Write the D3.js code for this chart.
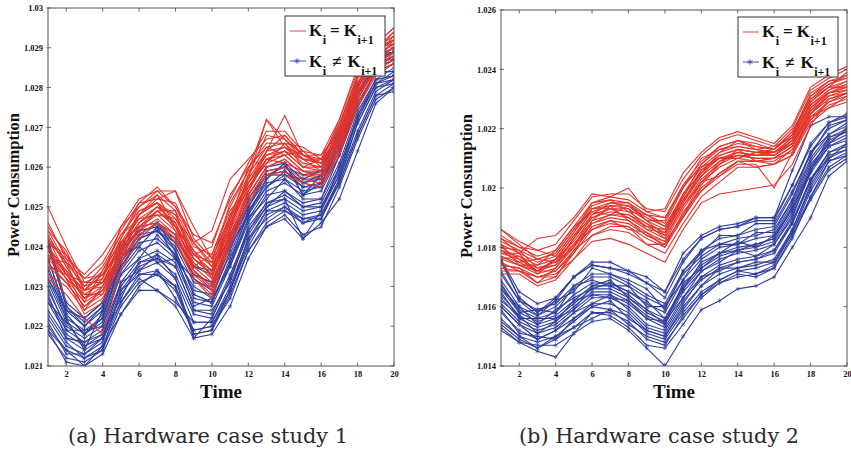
<!DOCTYPE html>
<html>
<head>
<meta charset="utf-8">
<script src="https://cdn.jsdelivr.net/npm/d3@7/dist/d3.min.js"></script>
<style>
  html, body { margin: 0; padding: 0; background: #fff; }
  svg { display: block; }
</style>
</head>
<body>
<svg id="chart" width="851" height="452"></svg>
<script>
// ---------- DATA ----------
const times = [1,2,3,4,5,6,7,8,9,10,11,12,13,14,15,16,17,18,19,20];

const xTicks = [2,4,6,8,10,12,14,16,18,20];
const yTicksA = [1.021,1.022,1.023,1.024,1.025,1.026,1.027,1.028,1.029,1.03];
const yTicksB = [1.014,1.016,1.018,1.02,1.022,1.024,1.026];

const captions = ["(a) Hardware case study 1", "(b) Hardware case study 2"];

// Case study 1, K_i = K_i+1 (red)
const caseA_equal = [
  [1.0245,1.0238,1.0232,1.0236,1.0244,1.0251,1.0255,1.0250,1.0243,1.0241,1.0252,1.0261,1.0269,1.0269,1.0264,1.0263,1.0272,1.0284,1.0291,1.0295],
  [1.0250,1.0240,1.0231,1.0233,1.0242,1.0250,1.0253,1.0249,1.0240,1.0238,1.0250,1.0259,1.0272,1.0265,1.0262,1.0262,1.0270,1.0283,1.0290,1.0293],
  [1.0237,1.0232,1.0226,1.0229,1.0238,1.0245,1.0249,1.0245,1.0235,1.0231,1.0244,1.0254,1.0262,1.0263,1.0259,1.0258,1.0266,1.0279,1.0286,1.0289],
  [1.0233,1.0230,1.0224,1.0227,1.0236,1.0244,1.0247,1.0243,1.0233,1.0229,1.0242,1.0252,1.0259,1.0260,1.0257,1.0256,1.0264,1.0276,1.0284,1.0287],
  [1.0242,1.0236,1.0230,1.0232,1.0241,1.0248,1.0252,1.0254,1.0245,1.0237,1.0247,1.0257,1.0264,1.0273,1.0263,1.0261,1.0269,1.0281,1.0288,1.0291],
  [1.0239,1.0233,1.0227,1.0230,1.0239,1.0246,1.0250,1.0246,1.0237,1.0233,1.0245,1.0255,1.0262,1.0264,1.0260,1.0259,1.0267,1.0280,1.0287,1.0290],
  [1.0244,1.0239,1.0229,1.0234,1.0243,1.0249,1.0251,1.0248,1.0239,1.0235,1.0248,1.0258,1.0265,1.0266,1.0262,1.0261,1.0269,1.0281,1.0289,1.0292],
  [1.0236,1.0231,1.0225,1.0228,1.0237,1.0245,1.0248,1.0244,1.0234,1.0230,1.0243,1.0253,1.0260,1.0262,1.0258,1.0257,1.0265,1.0278,1.0285,1.0288],
  [1.0241,1.0237,1.0233,1.0238,1.0245,1.0252,1.0254,1.0250,1.0241,1.0244,1.0257,1.0262,1.0267,1.0268,1.0263,1.0262,1.0271,1.0283,1.0290,1.0294],
  [1.0238,1.0232,1.0223,1.0226,1.0236,1.0243,1.0246,1.0242,1.0232,1.0228,1.0240,1.0251,1.0258,1.0259,1.0256,1.0255,1.0263,1.0275,1.0283,1.0286],
  [1.0243,1.0235,1.0228,1.0231,1.0240,1.0248,1.0251,1.0247,1.0238,1.0236,1.0246,1.0256,1.0264,1.0265,1.0261,1.0260,1.0268,1.0280,1.0288,1.0291],
  [1.0235,1.0233,1.0227,1.0229,1.0239,1.0246,1.0249,1.0245,1.0236,1.0232,1.0245,1.0255,1.0261,1.0263,1.0259,1.0259,1.0266,1.0279,1.0286,1.0289],
  [1.0240,1.0234,1.0229,1.0231,1.0240,1.0247,1.0250,1.0246,1.0237,1.0234,1.0246,1.0256,1.0263,1.0264,1.0260,1.0260,1.0268,1.0280,1.0287,1.0290],
  [1.0232,1.0228,1.0222,1.0218,1.0234,1.0242,1.0246,1.0241,1.0232,1.0227,1.0241,1.0251,1.0258,1.0258,1.0256,1.0255,1.0264,1.0276,1.0284,1.0286],
  [1.0242,1.0233,1.0231,1.0231,1.0238,1.0248,1.0253,1.0245,1.0239,1.0232,1.0247,1.0260,1.0265,1.0263,1.0264,1.0260,1.0270,1.0278,1.0288,1.0293],
  [1.0237,1.0236,1.0226,1.0234,1.0241,1.0245,1.0249,1.0249,1.0235,1.0238,1.0249,1.0255,1.0261,1.0266,1.0260,1.0262,1.0266,1.0283,1.0286,1.0288],
  [1.0246,1.0237,1.0229,1.0230,1.0242,1.0251,1.0252,1.0251,1.0241,1.0235,1.0244,1.0258,1.0268,1.0267,1.0262,1.0259,1.0271,1.0281,1.0289,1.0294],
  [1.0235,1.0231,1.0225,1.0229,1.0237,1.0245,1.0246,1.0243,1.0234,1.0230,1.0243,1.0253,1.0260,1.0262,1.0258,1.0258,1.0265,1.0277,1.0285,1.0287],
  [1.0241,1.0238,1.0230,1.0235,1.0243,1.0247,1.0248,1.0247,1.0241,1.0236,1.0251,1.0259,1.0263,1.0265,1.0263,1.0263,1.0269,1.0282,1.0290,1.0291],
  [1.0239,1.0232,1.0228,1.0228,1.0239,1.0249,1.0251,1.0244,1.0237,1.0233,1.0245,1.0257,1.0272,1.0267,1.0263,1.0261,1.0268,1.0279,1.0287,1.0292],
  [1.0243,1.0235,1.0227,1.0232,1.0245,1.0250,1.0254,1.0254,1.0242,1.0237,1.0248,1.0254,1.0264,1.0268,1.0263,1.0261,1.0272,1.0285,1.0290,1.0292],
  [1.0238,1.0234,1.0224,1.0230,1.0238,1.0244,1.0249,1.0246,1.0234,1.0229,1.0242,1.0254,1.0262,1.0261,1.0259,1.0257,1.0267,1.0278,1.0284,1.0289],
  [1.0244,1.0236,1.0232,1.0233,1.0240,1.0248,1.0251,1.0245,1.0238,1.0240,1.0253,1.0260,1.0266,1.0266,1.0265,1.0262,1.0270,1.0283,1.0291,1.0295],
  [1.0240,1.0233,1.0229,1.0233,1.0239,1.0246,1.0250,1.0248,1.0238,1.0234,1.0247,1.0256,1.0262,1.0264,1.0262,1.0261,1.0267,1.0280,1.0288,1.0290]
];

// Case study 1, K_i != K_i+1 (blue)
const caseA_unequal = [
  [1.0242,1.0226,1.0222,1.0226,1.0241,1.0245,1.0246,1.0243,1.0235,1.0233,1.0243,1.0253,1.0260,1.0261,1.0257,1.0259,1.0268,1.0281,1.0288,1.0290],
  [1.0237,1.0224,1.0220,1.0224,1.0237,1.0243,1.0244,1.0240,1.0231,1.0230,1.0240,1.0251,1.0258,1.0259,1.0256,1.0257,1.0266,1.0279,1.0286,1.0289],
  [1.0232,1.0222,1.0219,1.0222,1.0235,1.0241,1.0242,1.0238,1.0229,1.0228,1.0238,1.0249,1.0256,1.0257,1.0254,1.0255,1.0264,1.0277,1.0285,1.0287],
  [1.0229,1.0220,1.0217,1.0220,1.0233,1.0239,1.0241,1.0237,1.0227,1.0226,1.0236,1.0247,1.0254,1.0256,1.0253,1.0254,1.0263,1.0276,1.0284,1.0286],
  [1.0226,1.0218,1.0215,1.0218,1.0230,1.0236,1.0238,1.0235,1.0224,1.0223,1.0233,1.0244,1.0251,1.0253,1.0250,1.0251,1.0260,1.0273,1.0281,1.0284],
  [1.0222,1.0215,1.0213,1.0216,1.0228,1.0234,1.0236,1.0232,1.0221,1.0221,1.0230,1.0242,1.0249,1.0251,1.0248,1.0249,1.0258,1.0271,1.0280,1.0282],
  [1.0218,1.0212,1.0211,1.0214,1.0225,1.0231,1.0233,1.0229,1.0218,1.0219,1.0228,1.0239,1.0246,1.0249,1.0246,1.0247,1.0256,1.0268,1.0278,1.0281],
  [1.0219,1.0211,1.0210,1.0213,1.0223,1.0229,1.0229,1.0225,1.0217,1.0218,1.0225,1.0237,1.0245,1.0247,1.0242,1.0246,1.0252,1.0264,1.0276,1.0280],
  [1.0235,1.0223,1.0218,1.0223,1.0236,1.0242,1.0244,1.0239,1.0228,1.0226,1.0237,1.0248,1.0255,1.0258,1.0255,1.0256,1.0265,1.0278,1.0285,1.0287],
  [1.0227,1.0219,1.0216,1.0219,1.0231,1.0237,1.0239,1.0236,1.0226,1.0225,1.0235,1.0246,1.0253,1.0254,1.0251,1.0252,1.0261,1.0274,1.0282,1.0285],
  [1.0224,1.0217,1.0214,1.0217,1.0229,1.0235,1.0237,1.0233,1.0223,1.0222,1.0232,1.0243,1.0250,1.0252,1.0249,1.0250,1.0259,1.0272,1.0281,1.0283],
  [1.0231,1.0221,1.0218,1.0221,1.0234,1.0240,1.0245,1.0237,1.0230,1.0227,1.0239,1.0250,1.0257,1.0261,1.0253,1.0256,1.0265,1.0276,1.0284,1.0286],
  [1.0240,1.0225,1.0221,1.0225,1.0239,1.0244,1.0245,1.0241,1.0233,1.0231,1.0241,1.0252,1.0259,1.0260,1.0256,1.0258,1.0267,1.0280,1.0287,1.0289],
  [1.0220,1.0214,1.0212,1.0215,1.0226,1.0233,1.0234,1.0230,1.0219,1.0220,1.0229,1.0240,1.0248,1.0250,1.0247,1.0248,1.0257,1.0269,1.0279,1.0282],
  [1.0234,1.0222,1.0214,1.0224,1.0238,1.0240,1.0236,1.0237,1.0232,1.0229,1.0240,1.0248,1.0257,1.0261,1.0253,1.0258,1.0265,1.0279,1.0285,1.0288],
  [1.0223,1.0216,1.0212,1.0214,1.0229,1.0233,1.0233,1.0230,1.0218,1.0219,1.0229,1.0241,1.0249,1.0249,1.0247,1.0247,1.0257,1.0271,1.0280,1.0281],
  [1.0237,1.0223,1.0218,1.0222,1.0236,1.0243,1.0246,1.0239,1.0228,1.0226,1.0236,1.0249,1.0255,1.0259,1.0255,1.0255,1.0268,1.0280,1.0287,1.0287],
  [1.0219,1.0214,1.0210,1.0215,1.0223,1.0230,1.0234,1.0227,1.0219,1.0220,1.0227,1.0239,1.0245,1.0248,1.0243,1.0245,1.0255,1.0267,1.0277,1.0280],
  [1.0230,1.0219,1.0219,1.0220,1.0233,1.0237,1.0243,1.0238,1.0225,1.0227,1.0235,1.0247,1.0252,1.0257,1.0252,1.0252,1.0263,1.0275,1.0284,1.0284],
  [1.0226,1.0221,1.0215,1.0217,1.0231,1.0234,1.0238,1.0232,1.0217,1.0222,1.0232,1.0245,1.0251,1.0252,1.0242,1.0249,1.0260,1.0272,1.0281,1.0282],
  [1.0232,1.0224,1.0222,1.0226,1.0235,1.0242,1.0244,1.0241,1.0233,1.0231,1.0241,1.0250,1.0258,1.0258,1.0257,1.0257,1.0267,1.0278,1.0287,1.0289],
  [1.0228,1.0217,1.0216,1.0218,1.0227,1.0236,1.0237,1.0235,1.0224,1.0224,1.0231,1.0244,1.0250,1.0254,1.0250,1.0250,1.0258,1.0273,1.0282,1.0283],
  [1.0241,1.0225,1.0220,1.0225,1.0240,1.0244,1.0245,1.0242,1.0235,1.0234,1.0242,1.0252,1.0258,1.0260,1.0258,1.0259,1.0269,1.0281,1.0288,1.0289],
  [1.0221,1.0213,1.0213,1.0217,1.0226,1.0232,1.0229,1.0226,1.0221,1.0221,1.0229,1.0242,1.0247,1.0250,1.0246,1.0248,1.0256,1.0268,1.0278,1.0279]
];

// Case study 2, K_i = K_i+1 (red)
const caseB_equal = [
  [1.0186,1.0182,1.0179,1.0181,1.0189,1.0197,1.0198,1.0198,1.0193,1.0192,1.0203,1.0211,1.0216,1.0218,1.0216,1.0214,1.0220,1.0233,1.0237,1.0240],
  [1.0182,1.0179,1.0176,1.0178,1.0186,1.0194,1.0196,1.0195,1.0191,1.0188,1.0200,1.0208,1.0213,1.0215,1.0214,1.0213,1.0218,1.0230,1.0235,1.0237],
  [1.0179,1.0177,1.0174,1.0176,1.0184,1.0192,1.0194,1.0193,1.0189,1.0186,1.0197,1.0206,1.0211,1.0213,1.0212,1.0212,1.0216,1.0228,1.0233,1.0235],
  [1.0177,1.0175,1.0172,1.0174,1.0181,1.0189,1.0191,1.0190,1.0186,1.0183,1.0194,1.0203,1.0208,1.0211,1.0210,1.0210,1.0214,1.0226,1.0231,1.0233],
  [1.0174,1.0173,1.0170,1.0172,1.0179,1.0187,1.0189,1.0188,1.0184,1.0181,1.0191,1.0200,1.0205,1.0209,1.0209,1.0209,1.0213,1.0224,1.0229,1.0231],
  [1.0171,1.0171,1.0167,1.0169,1.0176,1.0184,1.0186,1.0185,1.0181,1.0178,1.0188,1.0197,1.0202,1.0207,1.0207,1.0208,1.0211,1.0222,1.0227,1.0229],
  [1.0175,1.0172,1.0170,1.0171,1.0176,1.0182,1.0183,1.0181,1.0178,1.0175,1.0186,1.0195,1.0198,1.0199,1.0200,1.0201,1.0208,1.0221,1.0230,1.0232],
  [1.0183,1.0178,1.0183,1.0184,1.0190,1.0198,1.0197,1.0200,1.0192,1.0193,1.0205,1.0212,1.0217,1.0219,1.0217,1.0215,1.0221,1.0234,1.0238,1.0241],
  [1.0180,1.0176,1.0173,1.0175,1.0183,1.0191,1.0193,1.0192,1.0188,1.0185,1.0196,1.0205,1.0210,1.0212,1.0211,1.0211,1.0215,1.0227,1.0232,1.0234],
  [1.0176,1.0174,1.0171,1.0173,1.0180,1.0188,1.0190,1.0189,1.0185,1.0182,1.0193,1.0202,1.0207,1.0210,1.0209,1.0210,1.0214,1.0225,1.0230,1.0232],
  [1.0181,1.0178,1.0175,1.0177,1.0185,1.0193,1.0195,1.0194,1.0190,1.0187,1.0198,1.0207,1.0212,1.0214,1.0213,1.0212,1.0217,1.0229,1.0234,1.0236],
  [1.0173,1.0172,1.0168,1.0170,1.0178,1.0186,1.0188,1.0187,1.0183,1.0180,1.0190,1.0199,1.0204,1.0208,1.0208,1.0200,1.0212,1.0223,1.0228,1.0230],
  [1.0178,1.0176,1.0172,1.0176,1.0182,1.0190,1.0192,1.0191,1.0187,1.0184,1.0195,1.0204,1.0209,1.0212,1.0211,1.0211,1.0215,1.0227,1.0232,1.0234],
  [1.0184,1.0180,1.0177,1.0179,1.0187,1.0195,1.0197,1.0196,1.0192,1.0190,1.0201,1.0209,1.0214,1.0216,1.0215,1.0213,1.0219,1.0231,1.0236,1.0238],
  [1.0181,1.0174,1.0174,1.0179,1.0187,1.0192,1.0191,1.0194,1.0189,1.0189,1.0201,1.0207,1.0210,1.0210,1.0212,1.0213,1.0219,1.0230,1.0234,1.0239],
  [1.0176,1.0177,1.0172,1.0172,1.0178,1.0189,1.0194,1.0189,1.0184,1.0182,1.0190,1.0201,1.0208,1.0213,1.0209,1.0210,1.0212,1.0225,1.0231,1.0232],
  [1.0183,1.0180,1.0179,1.0177,1.0185,1.0195,1.0196,1.0192,1.0191,1.0187,1.0197,1.0208,1.0214,1.0216,1.0214,1.0213,1.0218,1.0232,1.0236,1.0237],
  [1.0174,1.0173,1.0168,1.0173,1.0181,1.0186,1.0189,1.0186,1.0185,1.0180,1.0192,1.0199,1.0205,1.0209,1.0209,1.0208,1.0211,1.0224,1.0227,1.0231],
  [1.0178,1.0178,1.0171,1.0176,1.0184,1.0190,1.0193,1.0193,1.0186,1.0185,1.0195,1.0206,1.0210,1.0211,1.0211,1.0212,1.0215,1.0226,1.0233,1.0236],
  [1.0186,1.0181,1.0176,1.0178,1.0186,1.0193,1.0194,1.0194,1.0191,1.0190,1.0200,1.0210,1.0213,1.0214,1.0213,1.0214,1.0217,1.0231,1.0235,1.0238],
  [1.0172,1.0172,1.0170,1.0170,1.0179,1.0184,1.0187,1.0187,1.0181,1.0181,1.0191,1.0202,1.0204,1.0209,1.0207,1.0208,1.0213,1.0223,1.0229,1.0232],
  [1.0179,1.0175,1.0176,1.0175,1.0180,1.0191,1.0195,1.0195,1.0189,1.0184,1.0198,1.0205,1.0212,1.0216,1.0213,1.0212,1.0217,1.0228,1.0232,1.0235],
  [1.0177,1.0174,1.0172,1.0176,1.0181,1.0188,1.0191,1.0191,1.0188,1.0183,1.0194,1.0202,1.0209,1.0211,1.0210,1.0210,1.0214,1.0225,1.0232,1.0233],
  [1.0180,1.0179,1.0173,1.0174,1.0183,1.0193,1.0193,1.0190,1.0187,1.0186,1.0196,1.0204,1.0211,1.0213,1.0212,1.0211,1.0216,1.0229,1.0234,1.0234]
];

// Case study 2, K_i != K_i+1 (blue)
const caseB_unequal = [
  [1.0176,1.0165,1.0161,1.0163,1.0170,1.0174,1.0173,1.0171,1.0168,1.0165,1.0176,1.0183,1.0186,1.0187,1.0189,1.0189,1.0201,1.0215,1.0222,1.0225],
  [1.0171,1.0162,1.0159,1.0161,1.0167,1.0171,1.0171,1.0168,1.0164,1.0161,1.0172,1.0179,1.0183,1.0184,1.0186,1.0187,1.0198,1.0212,1.0220,1.0223],
  [1.0167,1.0159,1.0156,1.0158,1.0164,1.0168,1.0168,1.0165,1.0161,1.0158,1.0169,1.0176,1.0180,1.0181,1.0183,1.0184,1.0195,1.0209,1.0217,1.0220],
  [1.0164,1.0157,1.0154,1.0156,1.0161,1.0166,1.0166,1.0163,1.0158,1.0155,1.0166,1.0173,1.0177,1.0179,1.0180,1.0182,1.0192,1.0206,1.0215,1.0218],
  [1.0161,1.0155,1.0152,1.0154,1.0159,1.0164,1.0164,1.0161,1.0156,1.0153,1.0163,1.0170,1.0174,1.0176,1.0177,1.0179,1.0189,1.0203,1.0212,1.0215],
  [1.0158,1.0152,1.0149,1.0152,1.0156,1.0161,1.0161,1.0158,1.0152,1.0150,1.0160,1.0167,1.0171,1.0173,1.0174,1.0176,1.0186,1.0200,1.0210,1.0213],
  [1.0154,1.0149,1.0146,1.0149,1.0153,1.0158,1.0158,1.0155,1.0149,1.0147,1.0157,1.0164,1.0168,1.0170,1.0171,1.0173,1.0183,1.0197,1.0207,1.0211],
  [1.0152,1.0148,1.0145,1.0143,1.0151,1.0155,1.0156,1.0152,1.0146,1.0140,1.0150,1.0159,1.0162,1.0166,1.0167,1.0170,1.0180,1.0190,1.0204,1.0209],
  [1.0176,1.0163,1.0158,1.0162,1.0170,1.0175,1.0175,1.0172,1.0170,1.0165,1.0178,1.0184,1.0187,1.0188,1.0190,1.0190,1.0206,1.0221,1.0224,1.0224],
  [1.0166,1.0158,1.0155,1.0157,1.0162,1.0167,1.0167,1.0164,1.0159,1.0156,1.0167,1.0174,1.0178,1.0180,1.0181,1.0183,1.0193,1.0207,1.0216,1.0219],
  [1.0160,1.0154,1.0151,1.0153,1.0158,1.0163,1.0163,1.0160,1.0154,1.0152,1.0162,1.0169,1.0173,1.0175,1.0176,1.0178,1.0188,1.0202,1.0212,1.0214],
  [1.0169,1.0160,1.0157,1.0160,1.0166,1.0170,1.0170,1.0167,1.0163,1.0160,1.0171,1.0177,1.0181,1.0183,1.0184,1.0186,1.0196,1.0210,1.0218,1.0221],
  [1.0163,1.0156,1.0153,1.0155,1.0160,1.0165,1.0165,1.0162,1.0157,1.0154,1.0165,1.0172,1.0176,1.0178,1.0179,1.0181,1.0191,1.0205,1.0214,1.0217],
  [1.0156,1.0150,1.0148,1.0150,1.0155,1.0160,1.0159,1.0157,1.0151,1.0149,1.0158,1.0165,1.0169,1.0172,1.0173,1.0175,1.0185,1.0199,1.0209,1.0212],
  [1.0168,1.0158,1.0159,1.0158,1.0167,1.0169,1.0167,1.0167,1.0160,1.0160,1.0169,1.0179,1.0181,1.0181,1.0185,1.0185,1.0196,1.0212,1.0218,1.0222],
  [1.0159,1.0151,1.0150,1.0149,1.0156,1.0160,1.0162,1.0156,1.0152,1.0150,1.0159,1.0167,1.0173,1.0173,1.0175,1.0175,1.0186,1.0201,1.0211,1.0213],
  [1.0165,1.0156,1.0156,1.0156,1.0159,1.0167,1.0169,1.0163,1.0159,1.0154,1.0168,1.0173,1.0178,1.0182,1.0180,1.0184,1.0193,1.0206,1.0217,1.0219],
  [1.0155,1.0150,1.0146,1.0150,1.0153,1.0156,1.0159,1.0154,1.0150,1.0148,1.0156,1.0164,1.0169,1.0172,1.0171,1.0174,1.0185,1.0197,1.0209,1.0211],
  [1.0172,1.0162,1.0157,1.0162,1.0165,1.0173,1.0171,1.0169,1.0166,1.0159,1.0172,1.0178,1.0184,1.0184,1.0188,1.0188,1.0199,1.0211,1.0221,1.0223],
  [1.0162,1.0157,1.0151,1.0155,1.0162,1.0164,1.0163,1.0162,1.0156,1.0155,1.0163,1.0172,1.0175,1.0179,1.0177,1.0181,1.0190,1.0206,1.0214,1.0216],
  [1.0166,1.0160,1.0154,1.0159,1.0163,1.0166,1.0168,1.0165,1.0162,1.0156,1.0166,1.0175,1.0178,1.0179,1.0181,1.0183,1.0194,1.0208,1.0215,1.0220],
  [1.0160,1.0154,1.0149,1.0152,1.0158,1.0161,1.0164,1.0159,1.0153,1.0151,1.0161,1.0170,1.0172,1.0175,1.0176,1.0179,1.0188,1.0203,1.0210,1.0215],
  [1.0175,1.0163,1.0158,1.0163,1.0170,1.0174,1.0173,1.0172,1.0168,1.0163,1.0175,1.0183,1.0186,1.0187,1.0190,1.0190,1.0201,1.0214,1.0222,1.0224],
  [1.0153,1.0148,1.0147,1.0147,1.0151,1.0158,1.0157,1.0153,1.0147,1.0146,1.0154,1.0163,1.0168,1.0171,1.0170,1.0173,1.0184,1.0196,1.0206,1.0210]
];

// ---------- DRAW ----------
const RED = "#e2342b";
const BLUE = "#2f3e9e";
const SERIF = "'Liberation Serif', 'Times New Roman', serif";
const CAPFONT = "'DejaVu Serif', 'Liberation Serif', serif";

const svg = d3.select("#chart");

const panels = [
  { left: 48, right: 394, top: 8, bottom: 366, yDomain: [1.021, 1.03], yTicks: yTicksA,
    equal: caseA_equal, unequal: caseA_unequal, caption: captions[0], capX: 208, legX: 285, legY: 16 },
  { left: 501, right: 847, top: 10, bottom: 366, yDomain: [1.014, 1.026], yTicks: yTicksB,
    equal: caseB_equal, unequal: caseB_unequal, caption: captions[1], capX: 659, legX: 738, legY: 17 }
];

const fmt = d3.format(".3~f");
const star = d3.symbol(d3.symbolAsterisk, 14);

panels.forEach(p => {
  const x = d3.scaleLinear().domain([1, 20]).range([p.left, p.right]);
  const y = d3.scaleLinear().domain(p.yDomain).range([p.bottom, p.top]);
  const g = svg.append("g");

  const line = d3.line().x((d, i) => x(times[i])).y(d => y(d));

  const clipId = "clip" + p.left;
  svg.append("clipPath").attr("id", clipId).append("rect")
    .attr("x", p.left).attr("y", p.top).attr("width", p.right - p.left).attr("height", p.bottom - p.top);
  const plot = g.append("g").attr("clip-path", `url(#${clipId})`);

  // blue traces with asterisk markers
  p.unequal.forEach(tr => {
    plot.append("path").attr("d", line(tr)).attr("fill", "none")
      .attr("stroke", BLUE).attr("stroke-width", 1.1);
  });
  p.unequal.forEach(tr => {
    plot.selectAll(null).data(tr).enter().append("path")
      .attr("d", star)
      .attr("transform", (d, i) => `translate(${x(times[i])},${y(d)})`)
      .attr("fill", "none").attr("stroke", BLUE).attr("stroke-width", 0.6);
  });
  // red traces
  p.equal.forEach(tr => {
    plot.append("path").attr("d", line(tr)).attr("fill", "none")
      .attr("stroke", RED).attr("stroke-width", 1.1);
  });

  // axes
  const xAxis = d3.axisBottom(x).tickValues(xTicks).tickSize(0).tickPadding(5).tickFormat(d3.format("d"));
  const gx = g.append("g").attr("transform", `translate(0,${p.bottom})`).call(xAxis);
  gx.select(".domain").remove();
  gx.selectAll("text").attr("font-family", SERIF).attr("font-weight", "bold").attr("font-size", 8.5).attr("fill", "#111");

  const yAxis = d3.axisLeft(y).tickValues(p.yTicks).tickSize(0).tickPadding(5).tickFormat(fmt);
  const gy = g.append("g").attr("transform", `translate(${p.left},0)`).call(yAxis);
  gy.select(".domain").remove();
  gy.selectAll("text").attr("font-family", SERIF).attr("font-weight", "bold").attr("font-size", 8.5).attr("fill", "#111");

  // tick marks
  xTicks.forEach(t => {
    g.append("line").attr("x1", x(t)).attr("x2", x(t)).attr("y1", p.bottom).attr("y2", p.bottom - 3.5)
      .attr("stroke", "#444").attr("stroke-width", 0.8);
    g.append("line").attr("x1", x(t)).attr("x2", x(t)).attr("y1", p.top).attr("y2", p.top + 3.5)
      .attr("stroke", "#444").attr("stroke-width", 0.8);
  });
  p.yTicks.forEach(t => {
    g.append("line").attr("x1", p.left - 1.5).attr("x2", p.left + 3).attr("y1", y(t)).attr("y2", y(t))
      .attr("stroke", "#444").attr("stroke-width", 0.8);
    g.append("line").attr("x1", p.right).attr("x2", p.right - 3.5).attr("y1", y(t)).attr("y2", y(t))
      .attr("stroke", "#444").attr("stroke-width", 0.8);
  });

  // frame
  g.append("rect").attr("x", p.left).attr("y", p.top)
    .attr("width", p.right - p.left).attr("height", p.bottom - p.top)
    .attr("fill", "none").attr("stroke", "#555").attr("stroke-width", 1);

  // axis titles
  g.append("text").attr("x", (p.left + p.right) / 2).attr("y", 398)
    .attr("text-anchor", "middle").attr("font-family", SERIF).attr("font-weight", "bold")
    .attr("font-size", 19).attr("fill", "#111").text("Time");
  const yc = (p.top + p.bottom) / 2 - 2;
  g.append("text").attr("transform", `translate(${p.left - 29},${yc}) rotate(-90)`)
    .attr("text-anchor", "middle").attr("font-family", SERIF).attr("font-weight", "bold")
    .attr("font-size", 16.5).attr("fill", "#111").text("Power Consumption");

  // caption
  svg.append("text").attr("x", p.capX).attr("y", 443).attr("text-anchor", "middle")
    .attr("font-family", CAPFONT).attr("font-size", 21).attr("fill", "#2a2a2a")
    .attr("textLength", 280).attr("lengthAdjust", "spacingAndGlyphs").text(p.caption);

  // legend
  const lg = g.append("g").attr("transform", `translate(${p.legX},${p.legY})`);
  lg.append("rect").attr("x", 0).attr("y", 0).attr("width", 100).attr("height", 60)
    .attr("fill", "#fff").attr("stroke", "#333").attr("stroke-width", 1);
  lg.append("line").attr("x1", 5).attr("x2", 21).attr("y1", 15).attr("y2", 15)
    .attr("stroke", RED).attr("stroke-width", 0.9);
  lg.append("line").attr("x1", 5).attr("x2", 21).attr("y1", 45).attr("y2", 45)
    .attr("stroke", BLUE).attr("stroke-width", 0.9);
  lg.append("path").attr("d", d3.symbol(d3.symbolAsterisk, 22)()).attr("transform", "translate(12,45)")
    .attr("fill", "none").attr("stroke", BLUE).attr("stroke-width", 0.8);

  const rows = [
    { base: 20, op: "=", gap: 4 },
    { base: 51, op: "≠", gap: 6 }
  ];
  rows.forEach(r => {
    let cx = 24;
    const put = (txt, yy, fs, after) => {
      const el = lg.append("text").attr("x", cx).attr("y", yy)
        .attr("font-family", SERIF).attr("font-weight", "bold").attr("font-size", fs)
        .attr("fill", "#111").text(txt);
      cx += el.node().getComputedTextLength() + after;
    };
    put("K", r.base, 17, 0.5);
    put("i", r.base + 8, 12, r.gap);
    put(r.op, r.base, 17, r.gap);
    put("K", r.base, 17, 0.5);
    put("i+1", r.base + 8, 12, 0);
  });
});
</script>
</body>
</html>
